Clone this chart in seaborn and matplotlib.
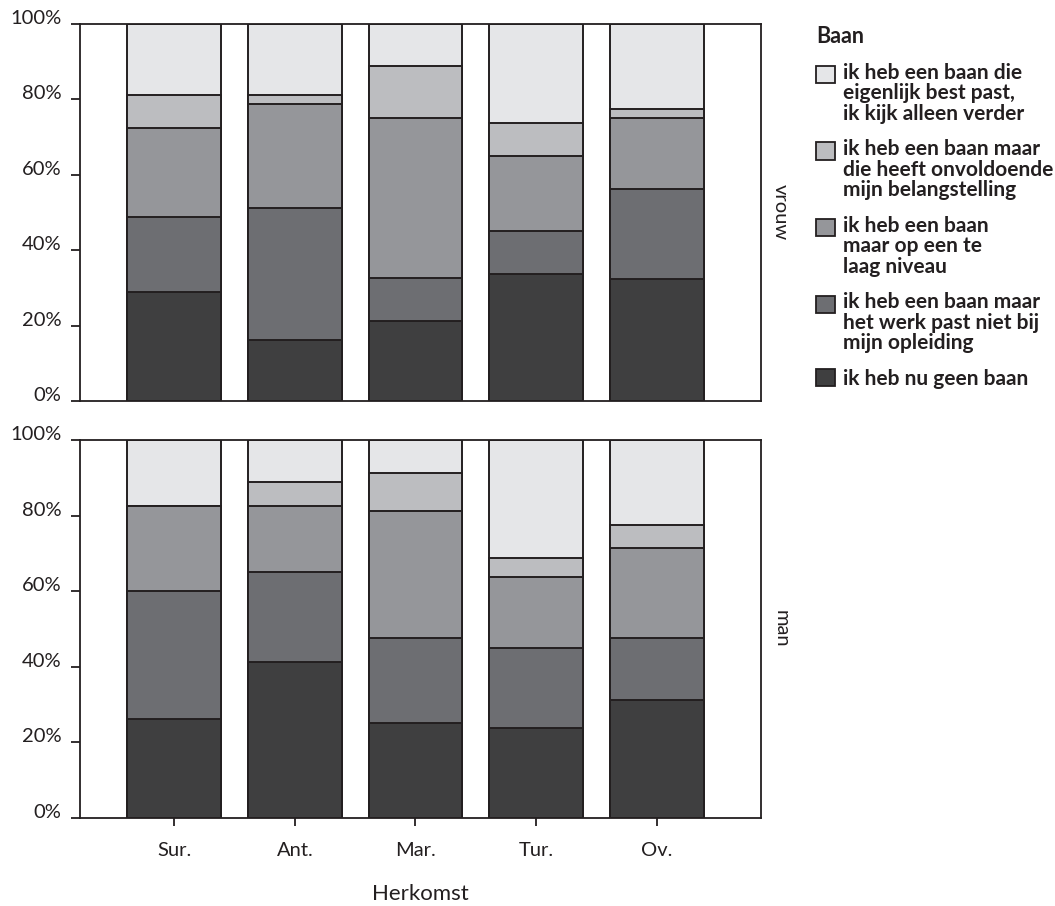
import numpy as np
import pandas as pd
import matplotlib
matplotlib.use("Agg")
import matplotlib.pyplot as plt
from matplotlib.patches import Patch, Rectangle
from matplotlib.legend_handler import HandlerPatch
import seaborn as sns

# ---------------- data ----------------
categories = ["Sur.", "Ant.", "Mar.", "Tur.", "Ov."]
genders = ["vrouw", "man"]
series = [
    "ik heb nu geen baan",
    "ik heb een baan maar\nhet werk past niet bij\nmijn opleiding",
    "ik heb een baan\nmaar op een te\nlaag niveau",
    "ik heb een baan maar\ndie heeft onvoldoende\nmijn belangstelling",
    "ik heb een baan die\neigenlijk best past,\nik kijk alleen verder",
]
# percentages per series (same order as `series`), per category
vrouw_geen = [28.8, 16.2, 21.2, 33.7, 32.3]
vrouw_werk = [20.0, 35.0, 11.3, 11.3, 24.0]
vrouw_laag = [23.7, 27.5, 42.5, 20.0, 18.7]
vrouw_onvoldoende = [8.7, 2.5, 13.8, 8.8, 2.5]
vrouw_best = [18.8, 18.8, 11.2, 26.2, 22.5]

man_geen = [26.3, 41.3, 25.1, 23.8, 31.3]
man_werk = [33.7, 23.7, 22.4, 21.2, 16.2]
man_laag = [22.5, 17.5, 33.7, 18.8, 23.8]
man_onvoldoende = [0.0, 6.4, 10.1, 5.0, 6.2]
man_best = [17.5, 11.1, 8.7, 31.2, 22.5]

colors = ["#3f3f40", "#6d6e72", "#95969a", "#bcbdc0", "#e5e6e8"]
edge = "#231f20"

rows = []
for g, vals in [("vrouw", [vrouw_geen, vrouw_werk, vrouw_laag, vrouw_onvoldoende, vrouw_best]),
                ("man", [man_geen, man_werk, man_laag, man_onvoldoende, man_best])]:
    cum = np.cumsum(np.array(vals), axis=0)
    for si, s in enumerate(series):
        for ci, c in enumerate(categories):
            rows.append({"gender": g, "series": s, "sidx": si, "herkomst": c,
                         "value": vals[si][ci], "cum": cum[si][ci]})
df = pd.DataFrame(rows)

# ---------------- style ----------------
sns.set_theme(style="white")
plt.rcParams["font.family"] = ["Lato", "DejaVu Sans"]
plt.rcParams["text.color"] = edge

fig = plt.figure(figsize=(10.55, 9.06), dpi=100)
W, H = 1055, 906
ax_top = fig.add_axes([80 / W, 1 - 401 / H, 681 / W, 377 / H])
ax_bot = fig.add_axes([80 / W, 1 - 818 / H, 681 / W, 378 / H])

for ax, g in [(ax_top, "vrouw"), (ax_bot, "man")]:
    sub = df[df["gender"] == g]
    for si in reversed(range(len(series))):
        d = sub[sub["sidx"] == si]
        sns.barplot(data=d, x="herkomst", y="cum", order=categories,
                    color=colors[si], saturation=1, edgecolor=edge,
                    linewidth=1.4, width=0.78, ax=ax, errorbar=None)
    ax.set_xlim(-0.784, 4.867)
    ax.set_ylim(0, 100)
    ax.set_yticks([0, 20, 40, 60, 80, 100])
    ax.set_yticklabels([f"{v}%" for v in [0, 20, 40, 60, 80, 100]])
    for lbl in ax.get_yticklabels():
        lbl.set_va("baseline")
    ax.set_xlabel("")
    ax.set_ylabel("")
    for sp in ax.spines.values():
        sp.set_visible(True)
        sp.set_color(edge)
        sp.set_linewidth(1.3)
    ax.tick_params(axis="y", direction="out", length=6.5, width=1.3, color=edge,
                   labelsize=14.5, pad=7, left=True, labelcolor=edge)
    ax.text(1.029, 0.5, g, transform=ax.transAxes, rotation=270,
            ha="center", va="center", fontsize=14.5, color=edge)

ax_top.tick_params(axis="x", bottom=False, labelbottom=False)
ax_bot.tick_params(axis="x", direction="out", length=6, width=1.3, color=edge,
                   labelsize=14.5, pad=11, bottom=True, labelcolor=edge)

fig.text(420.5 / W, 1 - 894 / H, "Herkomst", ha="center", va="center", fontsize=16,
         color=edge)


class ShiftedPatch(HandlerPatch):
    """Square legend key aligned with the first line of a multi-line label."""

    def __init__(self, shift):
        super().__init__()
        self.shift = shift

    def create_artists(self, legend, orig_handle, xdescent, ydescent, width,
                       height, fontsize, trans):
        p = Rectangle((-xdescent, -ydescent + self.shift), width, height)
        self.update_prop(p, orig_handle, legend)
        p.set_transform(trans)
        return [p]


handles = [Patch(facecolor=colors[i], edgecolor=edge, linewidth=1.3)
           for i in reversed(range(len(series)))]
labels = list(reversed(series))
hmap = {h: ShiftedPatch(14.0 if "\n" in lab else 0.0) for h, lab in zip(handles, labels)}
leg = fig.legend(handles, labels, loc="upper left", bbox_to_anchor=(816 / W, 1 - 26 / H),
                 frameon=False, title="Baan", alignment="left",
                 prop={"size": 15, "weight": "bold"},
                 title_fontproperties={"size": 15.5, "weight": "bold"},
                 handlelength=0.9, handleheight=0.9, handletextpad=0.38,
                 labelspacing=0.75, borderaxespad=0, borderpad=0,
                 handler_map=hmap)
for t in leg.get_texts():
    t.set_linespacing(1.03)
    t.set_color(edge)
leg.get_title().set_color(edge)

fig.savefig("out.png", dpi=100)
